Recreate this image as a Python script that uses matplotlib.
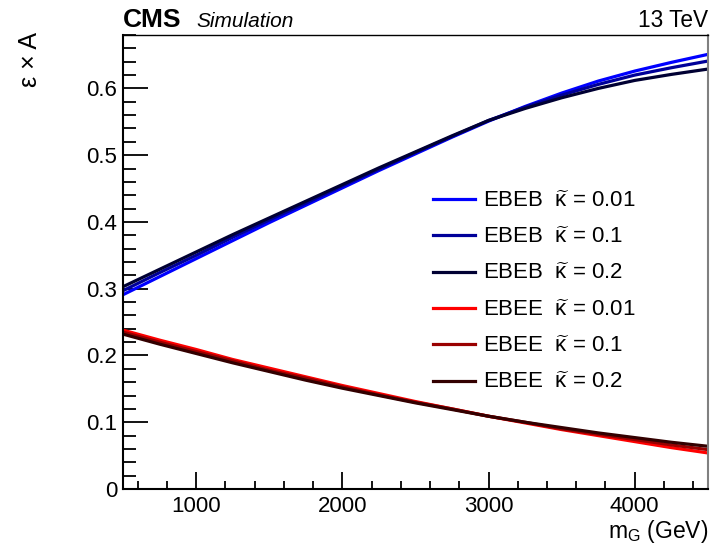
import matplotlib
matplotlib.use('Agg')
import matplotlib.pyplot as plt
from matplotlib.ticker import MultipleLocator

plt.rcParams['font.family'] = ['Liberation Sans', 'DejaVu Sans']
plt.rcParams['mathtext.fontset'] = 'custom'
plt.rcParams['mathtext.rm'] = 'Liberation Sans'
plt.rcParams['mathtext.it'] = 'Liberation Sans:italic'

# graviton mass points (GeV)
mass = [500, 750, 1000, 1250, 1500, 1750, 2000, 2250, 2500,
        2750, 3000, 3250, 3500, 3750, 4000, 4250, 4500]

# efficiency x acceptance
ebeb_001 = [0.291, 0.318, 0.345, 0.372, 0.399, 0.425, 0.451, 0.477, 0.502,
            0.527, 0.551, 0.573, 0.593, 0.611, 0.626, 0.639, 0.651]
ebeb_01 = [0.297, 0.324, 0.350, 0.377, 0.403, 0.428, 0.454, 0.479, 0.504,
           0.528, 0.552, 0.572, 0.590, 0.606, 0.620, 0.631, 0.641]
ebeb_02 = [0.303, 0.329, 0.355, 0.381, 0.406, 0.431, 0.456, 0.481, 0.505,
           0.529, 0.552, 0.570, 0.586, 0.600, 0.612, 0.621, 0.629]
ebee_001 = [0.238, 0.223, 0.209, 0.194, 0.181, 0.168, 0.155, 0.143, 0.131,
            0.120, 0.109, 0.099, 0.089, 0.080, 0.071, 0.062, 0.054]
ebee_01 = [0.235, 0.220, 0.206, 0.192, 0.178, 0.166, 0.153, 0.141, 0.130,
           0.120, 0.109, 0.100, 0.090, 0.082, 0.074, 0.066, 0.059]
ebee_02 = [0.232, 0.217, 0.203, 0.189, 0.176, 0.163, 0.151, 0.140, 0.129,
           0.119, 0.109, 0.100, 0.092, 0.084, 0.077, 0.070, 0.064]

series = [
    (ebeb_001, 'EBEB', '0.01', '#0000ff'),
    (ebeb_01, 'EBEB', '0.1', '#000099'),
    (ebeb_02, 'EBEB', '0.2', '#000033'),
    (ebee_001, 'EBEE', '0.01', '#ff0000'),
    (ebee_01, 'EBEE', '0.1', '#990000'),
    (ebee_02, 'EBEE', '0.2', '#330000'),
]

fig = plt.figure(figsize=(7.26, 5.49), dpi=100)
ax = fig.add_axes([0.1694, 0.1093, 0.8056, 0.8269])

for vals, cat, kap, col in series:
    ax.plot(mass, vals, color=col, lw=2.3,
            label=r'%s  $\widetilde{\mathrm{\kappa}}$ = %s' % (cat, kap))

ax.set_xlim(500, 4500)
ax.set_ylim(0, 0.68)

ax.xaxis.set_major_locator(MultipleLocator(1000))
ax.xaxis.set_minor_locator(MultipleLocator(200))
ax.yaxis.set_major_locator(MultipleLocator(0.1))
ax.yaxis.set_minor_locator(MultipleLocator(0.02))
ax.yaxis.set_major_formatter(plt.FuncFormatter(lambda v, p: '0' if abs(v) < 1e-9 else '%g' % v))

ax.tick_params(axis='both', which='both', direction='in', labelsize=16, width=1.3, colors='black')
ax.tick_params(axis='x', which='major', length=12, pad=5)
ax.tick_params(axis='x', which='minor', length=6)
ax.tick_params(axis='y', which='major', length=18, pad=4)
ax.tick_params(axis='y', which='minor', length=9)

for s in ['left', 'bottom']:
    ax.spines[s].set_linewidth(1.5)
ax.spines['top'].set_linewidth(1.0)
ax.spines['right'].set_color('#808080')
ax.spines['right'].set_linewidth(1.5)

leg = ax.legend(loc='upper left', bbox_to_anchor=(0.530, 0.657), frameon=False,
                fontsize=16, handlelength=1.9, handletextpad=0.36, labelspacing=0.69,
                borderpad=0, borderaxespad=0)

fig.text(0.1694, 0.951, 'CMS', fontsize=19, fontweight='bold', ha='left', va='baseline')
fig.text(0.270, 0.951, 'Simulation', fontsize=15, style='italic', ha='left', va='baseline')
fig.text(0.975, 0.951, '13 TeV', fontsize=16.3, ha='right', va='baseline')
fig.text(0.975, 0.020, r'm$_{\mathrm{G}}$ (GeV)', fontsize=16.5, ha='right', va='baseline')
fig.text(0.042, 0.942, 'ε × A', fontsize=18, rotation=90, ha='center', va='top')

fig.savefig('out.png', dpi=100)
